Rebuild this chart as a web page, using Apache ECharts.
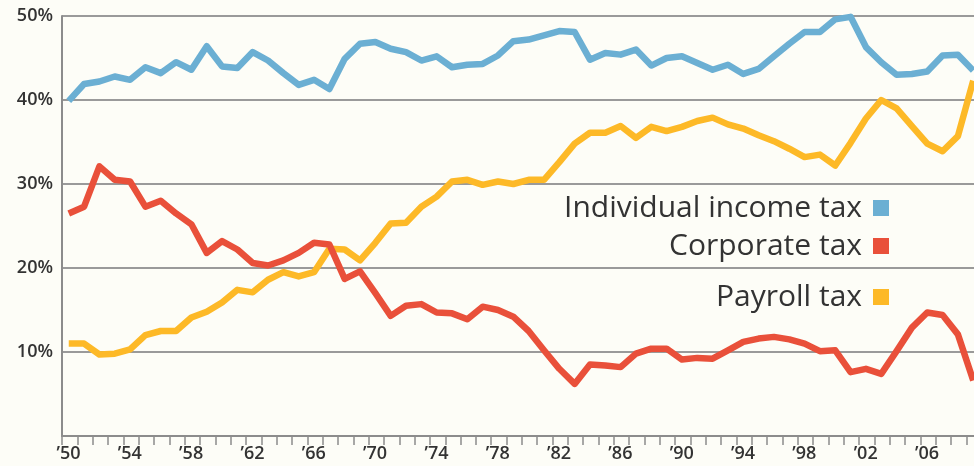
<!DOCTYPE html>
<html>
<head>
<meta charset="utf-8">
<script src="https://cdn.jsdelivr.net/npm/echarts@6/dist/echarts.min.js"></script>
<style>
  html, body { margin: 0; padding: 0; background: #fdfdf7; }
  #chart { width: 974px; height: 466px; }
</style>
</head>
<body>
<div id="chart"></div>
<script>
// years 1950 - 2009
const years = [];
for (let y = 1950; y <= 2009; y++) years.push(y);

// share of federal revenue, %
const individual = [39.9, 41.9, 42.2, 42.8, 42.4, 43.9, 43.2, 44.5, 43.6, 46.4,
  44.0, 43.8, 45.7, 44.7, 43.2, 41.8, 42.4, 41.3, 44.9, 46.7,
  46.9, 46.1, 45.7, 44.7, 45.2, 43.9, 44.2, 44.3, 45.3, 47.0,
  47.2, 47.7, 48.2, 48.1, 44.8, 45.6, 45.4, 46.0, 44.1, 45.0,
  45.2, 44.4, 43.6, 44.2, 43.1, 43.7, 45.2, 46.7, 48.1, 48.1,
  49.6, 49.9, 46.3, 44.5, 43.0, 43.1, 43.4, 45.3, 45.4, 43.5];
const corporate = [26.5, 27.3, 32.1, 30.5, 30.3, 27.3, 28.0, 26.5, 25.2, 21.8,
  23.2, 22.2, 20.6, 20.3, 20.9, 21.8, 23.0, 22.8, 18.7, 19.6,
  17.0, 14.3, 15.5, 15.7, 14.7, 14.6, 13.9, 15.4, 15.0, 14.2,
  12.5, 10.2, 8.0, 6.2, 8.5, 8.4, 8.2, 9.8, 10.4, 10.4,
  9.1, 9.3, 9.2, 10.2, 11.2, 11.6, 11.8, 11.5, 11.0, 10.1,
  10.2, 7.6, 8.0, 7.4, 10.1, 12.9, 14.7, 14.4, 12.1, 6.6];
const payroll = [11.0, 11.0, 9.7, 9.8, 10.3, 12.0, 12.5, 12.5, 14.1, 14.8,
  15.9, 17.4, 17.1, 18.6, 19.5, 19.0, 19.5, 22.3, 22.2, 20.9,
  23.0, 25.3, 25.4, 27.3, 28.5, 30.3, 30.5, 29.9, 30.3, 30.0,
  30.5, 30.5, 32.6, 34.8, 36.1, 36.1, 36.9, 35.5, 36.8, 36.3,
  36.8, 37.5, 37.9, 37.1, 36.6, 35.8, 35.1, 34.2, 33.2, 33.5,
  32.2, 34.9, 37.8, 40.0, 39.0, 36.9, 34.8, 33.9, 35.7, 42.3];

const names = ['Individual income tax', 'Corporate tax', 'Payroll tax'];
const colors = ['#6bafd3', '#e9503a', '#fdb927'];

const pairs = (arr) => arr.map((v, i) => [years[i], v]);

const myChart = echarts.init(document.getElementById('chart'));

// one legend box per label, they are not evenly spaced in the original
const legendTops = [193, 231, 282];
const legends = names.map((n, i) => ({
  data: [n],
  right: 85,
  top: legendTops[i],
  padding: 0,
  align: 'right',
  icon: 'rect',
  itemWidth: 16,
  itemHeight: 16,
  selectedMode: false,
  textStyle: {
    fontFamily: 'Open Sans',
    fontSize: 30,
    color: '#333',
    padding: [0, 6, 0, 0]
  }
}));

const options = {
  backgroundColor: '#fdfdf7',
  animation: false,
  color: colors,
  legend: legends,
  grid: {
    left: 62,
    right: 0,
    top: 16,
    bottom: 30
  },
  xAxis: {
    type: 'value',
    min: 1949.56,
    max: 2009.05,
    interval: 1,
    axisLine: {
      lineStyle: { color: '#8c8c8c', width: 2 }
    },
    axisTick: {
      length: 9,
      lineStyle: { color: '#8c8c8c', width: 1.5 }
    },
    splitLine: { show: false },
    axisLabel: {
      margin: 9,
      padding: [0, 0, 0, 13],
      fontFamily: 'Open Sans',
      fontWeight: 600,
      fontSize: 18,
      color: '#333',
      showMaxLabel: false,
      formatter: function (value) {
        const yr = Math.round(value + 0.44);
        if ((yr - 1950) % 4 !== 0 || yr > 2008) return '';
        return '\u2019' + String(yr).slice(2);
      }
    }
  },
  yAxis: {
    type: 'value',
    min: 0,
    max: 50,
    interval: 10,
    axisLine: {
      show: true,
      lineStyle: { color: '#8c8c8c', width: 2 }
    },
    axisTick: { show: false },
    splitLine: {
      lineStyle: { color: '#9a9a9a', width: 1.8 }
    },
    axisLabel: {
      margin: 9,
      fontFamily: 'Open Sans',
      fontWeight: 600,
      fontSize: 18,
      color: '#333',
      formatter: function (value) {
        return value === 0 ? '' : value + '%';
      }
    }
  },
  series: [
    {
      name: names[0],
      type: 'line',
      showSymbol: false,
      data: pairs(individual),
      lineStyle: { width: 6.5, color: colors[0], join: 'round' },
      itemStyle: { color: colors[0] }
    },
    {
      name: names[2],
      type: 'line',
      showSymbol: false,
      data: pairs(payroll),
      lineStyle: { width: 6.5, color: colors[2], join: 'round' },
      itemStyle: { color: colors[2] }
    },
    {
      name: names[1],
      type: 'line',
      showSymbol: false,
      data: pairs(corporate),
      lineStyle: { width: 6.5, color: colors[1], join: 'round' },
      itemStyle: { color: colors[1] }
    }
  ]
};

myChart.setOption(options);
</script>
</body>
</html>
